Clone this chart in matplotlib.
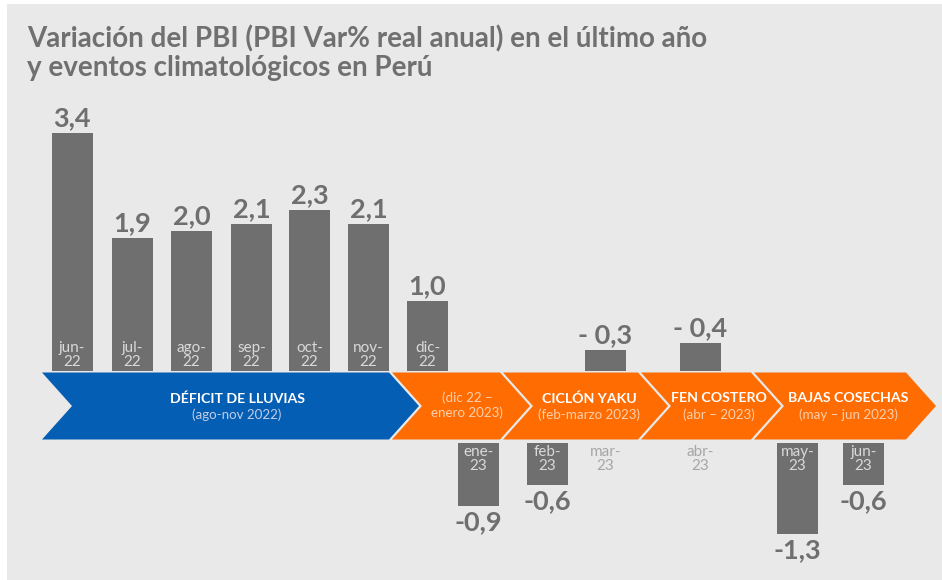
import matplotlib.pyplot as plt
from matplotlib.patches import Polygon, Rectangle

# datos
meses = ['jun-\n22', 'jul-\n22', 'ago-\n22', 'sep-\n22', 'oct-\n22', 'nov-\n22', 'dic-\n22',
         'ene-\n23', 'feb-\n23', 'mar-\n23', 'abr-\n23', 'may-\n23', 'jun-\n23']
valores = [3.4, 1.9, 2.0, 2.1, 2.3, 2.1, 1.0, -0.9, -0.6, -0.3, -0.4, -1.3, -0.6]
etiquetas = ['3,4', '1,9', '2,0', '2,1', '2,3', '2,1', '1,0',
             '-0,9', '-0,6', '- 0,3', '- 0,4', '-1,3', '-0,6']

eventos = ['DÉFICIT DE LLUVIAS', '', 'CICLÓN YAKU', 'FEN COSTERO', 'BAJAS COSECHAS']
periodos = ['(ago-nov 2022)', '(dic 22 –\nenero 2023)', '(feb-marzo 2023)',
            '(abr – 2023)', '(may – jun 2023)']

titulo = ['Variación del PBI (PBI Var% real anual) en el último año',
          'y eventos climatológicos en Perú']

# layout (pixels)
x_pos = [72, 132.5, 191.5, 251.5, 309.5, 368.5, 427.5, 478.5, 547.5, 605.5, 700.5, 797.5, 863.5]
arriba = [True] * 7 + [False, False, True, True, False, False]
seg_edges = [(42, 389), (392, 500), (503, 638), (641, 751), (754, 906)]
seg_text_x = [237, 467, 589, 719, 848]
seg_colors = ['#045fb4', '#ff6c02', '#ff6c02', '#ff6c02', '#ff6c02']

W, H = 942, 580
Y0 = 371      # pixel row of the baseline above the band
S = 70.0      # pixels per unit


def vy(py):
    return (Y0 - py) / S


bg = '#e9e9e9'
gris = '#6f6f6f'
plt.rcParams['font.family'] = ['Lato', 'DejaVu Sans']

fig = plt.figure(figsize=(W / 100, H / 100), dpi=100)
fig.patch.set_facecolor('white')
ax = fig.add_axes([0, 0, 1, 1])
ax.set_xlim(0, W)
ax.set_ylim(vy(H), vy(0))
ax.axis('off')

ax.add_patch(Rectangle((7, vy(H)), W - 7, vy(4) - vy(H), facecolor=bg, edgecolor='none', zorder=0))

# title
for k, line in enumerate(titulo):
    ax.text(27, vy(47 + 29 * k), line, fontsize=20, fontweight='bold', color='#707070',
            ha='left', va='baseline')

# band
top, bot, mid = vy(372.5), vy(439.5), vy(406)
d = 30
for i, (L, R) in enumerate(seg_edges):
    pts = [(L, top), (R, top), (R + d, mid), (R, bot), (L, bot), (L + d, mid)]
    ax.add_patch(Polygon(pts, closed=True, facecolor=seg_colors[i], edgecolor='none', zorder=2))
    sub_col = '#c3cde6' if i == 0 else '#fcd0ae'
    if eventos[i]:
        ax.text(seg_text_x[i], vy(398.5), eventos[i], fontsize=10.2, fontweight='bold', color='white',
                ha='center', va='center', zorder=3)
        ax.text(seg_text_x[i], vy(415), periodos[i], fontsize=9.6, fontweight='normal', color=sub_col,
                ha='center', va='center', zorder=3)
    else:
        ax.text(seg_text_x[i], vy(405), periodos[i], fontsize=9.6, fontweight='normal', color=sub_col,
                ha='center', va='center', linespacing=1.2, zorder=3)

# bars
gap = vy(443)
for x, v, lab, m, up in zip(x_pos, valores, etiquetas, meses, arriba):
    if up:
        h = abs(v)
        ax.bar(x, h, width=41, bottom=0, color=gris, zorder=2)
        ax.text(x, h + 7 / S, lab, fontsize=19.5, fontweight='bold', color=gris,
                ha='center', va='baseline')
        inside = v > 0
        ax.text(x, vy(369) if inside else vy(445), m, fontsize=11, fontweight='normal',
                color='#d9d9d9' if inside else '#a6a6a6', ha='center',
                va='bottom' if inside else 'top', linespacing=1.0, zorder=3)
    else:
        ax.bar(x, v, width=41, bottom=gap, color=gris, zorder=2)
        ax.text(x, gap + v - 24 / S, lab, fontsize=19.5, fontweight='bold', color=gris,
                ha='center', va='baseline')
        ax.text(x, vy(445), m, fontsize=11, fontweight='normal', color='#d9d9d9',
                ha='center', va='top', linespacing=1.0, zorder=3)

plt.savefig('out.png', dpi=100, facecolor=fig.get_facecolor())
plt.close()
